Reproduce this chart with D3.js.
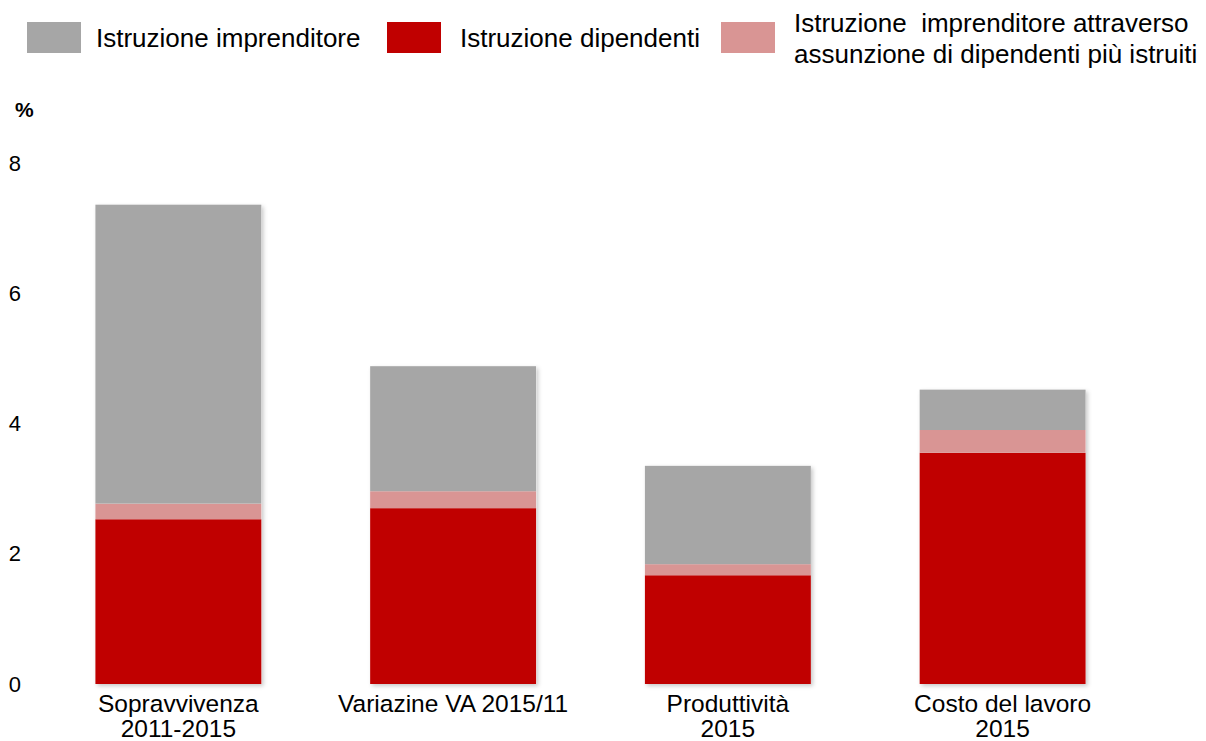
<!DOCTYPE html>
<html>
<head>
<meta charset="utf-8">
<script src="https://cdn.jsdelivr.net/npm/d3@7"></script>
<style>
body { margin: 0; background: #fff; }
text { font-family: "Liberation Sans", Arial, sans-serif; fill: #000; }
</style>
</head>
<body>
<div id="chart-area"></div>
<script>
let width = 1206,
height = 741;

// data
let categories = [["Sopravvivenza", "2011-2015"], ["Variazine VA 2015/11"], ["Produttività", "2015"], ["Costo del lavoro", "2015"]];
let dipendenti = [2.53, 2.70, 1.67, 3.55];
let attraverso = [0.24, 0.26, 0.17, 0.35];
let imprenditore = [4.59, 1.92, 1.51, 0.62];
let yTicks = [0, 2, 4, 6, 8];

let seriesNames = ["Istruzione imprenditore", "Istruzione dipendenti", ["Istruzione  imprenditore attraverso", "assunzione di dipendenti più istruiti"]];
let colors = {dip: "#c00000", att: "#d99594", imp: "#a6a6a6"};

let svg = d3.select("#chart-area").append("svg")
	.attr("width", width)
	.attr("height", height);

let defs = svg.append("defs");
let f = defs.append("filter").attr("id", "shadow")
	.attr("x", "-10%").attr("y", "-10%").attr("width", "120%").attr("height", "120%");
f.append("feDropShadow").attr("dx", 2).attr("dy", 2).attr("stdDeviation", 2)
	.attr("flood-color", "#000").attr("flood-opacity", 0.22);

let x = d3.scaleBand()
	.domain(d3.range(categories.length))
	.range([41, 1140])
	.paddingInner(0.396)
	.paddingOuter(0.198);

let y = d3.scaleLinear()
	.domain([0, 8])
	.range([684, 163]);

// table for stacking
let table = categories.map((c, i) => ({i: i, dip: dipendenti[i], att: attraverso[i], imp: imprenditore[i]}));
let stack = d3.stack().keys(["dip", "att", "imp"])(table);

// shadow under whole bar
svg.append("g").selectAll("rect")
	.data(table)
	.enter().append("rect")
	.attr("x", d => x(d.i))
	.attr("width", x.bandwidth())
	.attr("y", d => y(d.dip + d.att + d.imp))
	.attr("height", d => y(0) - y(d.dip + d.att + d.imp))
	.attr("fill", "#fff")
	.attr("filter", "url(#shadow)");

svg.append("g").selectAll("g")
	.data(stack)
	.enter().append("g")
	.attr("fill", d => colors[d.key])
	.selectAll("rect")
	.data(d => d)
	.enter().append("rect")
	.attr("x", d => x(d.data.i))
	.attr("width", x.bandwidth())
	.attr("y", d => y(d[1]))
	.attr("height", d => y(d[0]) - y(d[1]));

// y axis labels
let yAxis = svg.append("g")
	.attr("transform", "translate(21,0)")
	.call(d3.axisLeft(y).tickValues(yTicks).tickSize(0).tickPadding(0));
yAxis.select(".domain").remove();
yAxis.selectAll("text")
	.style("font-family", "'Liberation Sans', Arial, sans-serif")
	.style("font-size", "22px")
	.attr("fill", "#000");

svg.append("text")
	.attr("x", 15).attr("y", 117)
	.style("font-size", "21px")
	.style("font-weight", "bold")
	.text("%");

// category labels
let cat = svg.append("g").selectAll("text")
	.data(categories)
	.enter().append("text")
	.attr("text-anchor", "middle")
	.attr("x", (d, i) => x(i) + x.bandwidth() / 2)
	.attr("y", 712)
	.style("font-size", "24.5px");
cat.selectAll("tspan")
	.data(d => d)
	.enter().append("tspan")
	.attr("x", function() { return d3.select(this.parentNode).attr("x"); })
	.attr("dy", (d, i) => i === 0 ? 0 : 25)
	.text(d => d);

// legend
let legend = svg.append("g");
let legendItems = [
	{box: 27, tx: 96, color: colors.imp, label: [seriesNames[0]]},
	{box: 387, tx: 460, color: colors.dip, label: [seriesNames[1]]},
	{box: 721, tx: 794, color: colors.att, label: seriesNames[2]}
];
legendItems.forEach(function(l) {
	legend.append("rect")
		.attr("x", l.box).attr("y", 22)
		.attr("width", 54).attr("height", 31)
		.attr("fill", l.color);
	let t = legend.append("text")
		.attr("x", l.tx)
		.attr("y", l.label.length === 1 ? 47 : 32)
		.style("font-size", "26px")
		.style("white-space", "pre");
	t.selectAll("tspan")
		.data(l.label)
		.enter().append("tspan")
		.attr("x", l.tx)
		.attr("dy", (d, i) => i === 0 ? 0 : 31)
		.text(d => d);
});
</script>
</body>
</html>
